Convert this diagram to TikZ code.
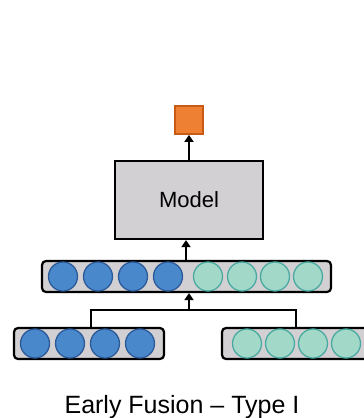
\documentclass[tikz,border=0pt]{standalone}
\usepackage{fontspec}
\setmainfont{Liberation Sans}
\usetikzlibrary{arrows.meta}
\definecolor{boxgray}{HTML}{D2D0D2}
\definecolor{blueF}{HTML}{4A88CC}
\definecolor{blueD}{HTML}{2C5A98}
\definecolor{tealF}{HTML}{A2D8C8}
\definecolor{tealD}{HTML}{4AAAA2}
\definecolor{orangeF}{HTML}{EE8034}
\definecolor{orangeD}{HTML}{C85A14}
\tikzset{
  bar/.style={draw=black, fill=boxgray, line width=2.2pt, rounded corners=4pt, minimum height=31pt, inner sep=0pt},
  bcirc/.style={circle, draw=blueD, fill=blueF, line width=1.3pt, minimum size=29pt, inner sep=0pt},
  tcirc/.style={circle, draw=tealD, fill=tealF, line width=1.3pt, minimum size=29pt, inner sep=0pt},
  conn/.style={line width=2.1pt, -{Triangle[length=7pt,width=9pt]}},
  plain/.style={line width=2.1pt}
}
\begin{document}
\begin{tikzpicture}[x=1pt,y=-1pt]
\useasboundingbox (0,0) rectangle (364,418);
% output
\node[draw=orangeD, fill=orangeF, line width=1.8pt, minimum size=28pt, inner sep=0pt] (out) at (189,120) {};
% model
\node[draw=black, fill=boxgray, line width=2.2pt, minimum width=148pt, minimum height=78pt, inner sep=0pt, font=\fontsize{22}{26}\selectfont] (model) at (189,200) {Model};
% fused vector
\node[bar, minimum width=289pt] (fused) at (186.5,276.5) {};
\foreach \x [count=\i] in {63,98,133,168} \node[bcirc] (f\i) at (\x,276.5) {};
\foreach \x [count=\i] in {208,242,275,308} \node[tcirc] (g\i) at (\x,276.5) {};
% modality vectors
\node[bar, minimum width=150pt] (left) at (89,343.5) {};
\foreach \x [count=\i] in {35,70,105,140} \node[bcirc] (l\i) at (\x,343.5) {};
\node[bar, minimum width=150pt] (right) at (297,343.5) {};
\foreach \x [count=\i] in {247,280,313,346} \node[tcirc] (r\i) at (\x,343.5) {};
% connectors
\coordinate (j) at (189,310);
\coordinate (jl) at (91,310);
\coordinate (jr) at (296,310);
\draw[plain] (left.north -| jl) -- (jl) -- (jr) -- (right.north -| jr);
\draw[conn] (j) -- (fused.south -| j);
\draw[conn] (fused.north -| 186,0) -- (model.south -| 186,0);
\draw[conn] (model.north -| out) -- (out.south);
% caption
\node[font=\fontsize{25}{29}\selectfont, anchor=base] (cap) at (182,413) {Early Fusion – Type I};
\end{tikzpicture}
\end{document}
